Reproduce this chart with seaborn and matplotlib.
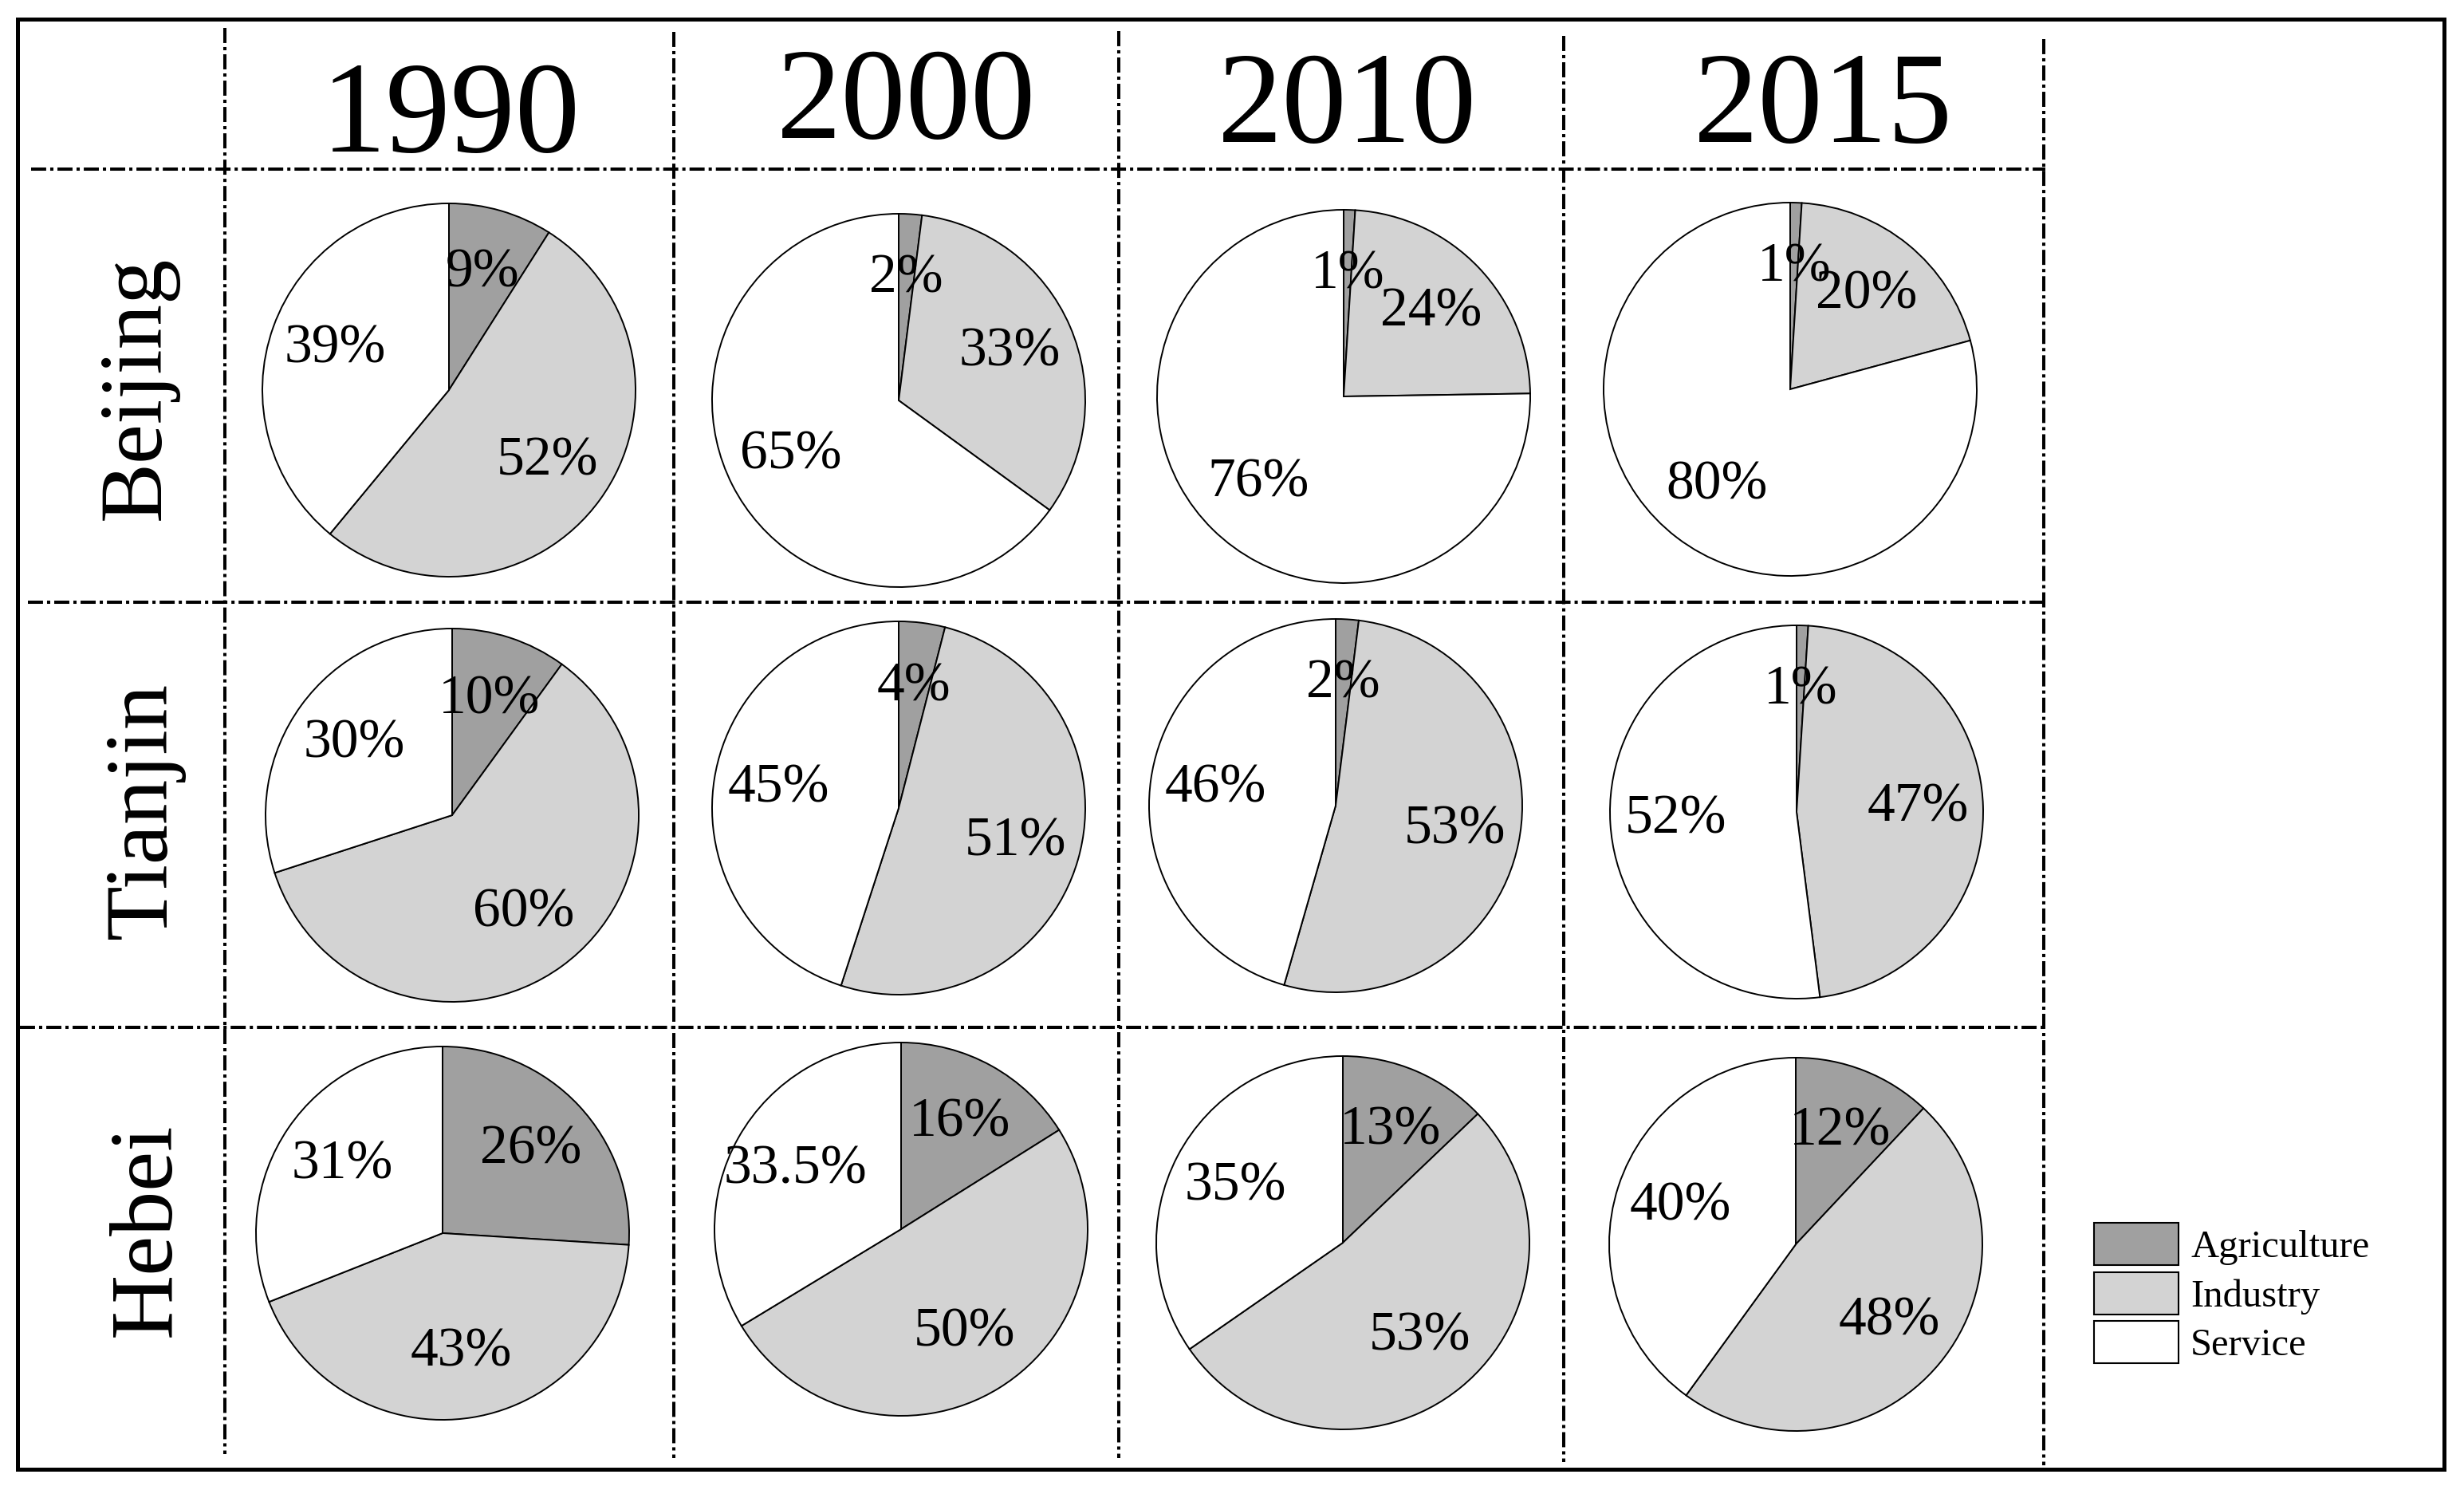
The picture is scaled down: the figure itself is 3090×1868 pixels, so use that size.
import matplotlib
matplotlib.use("Agg")
import matplotlib.pyplot as plt
import seaborn as sns
from matplotlib.lines import Line2D
from matplotlib.patches import Patch, Rectangle

# --- DATOS ---
years = ["1990", "2000", "2010", "2015"]
regions = ["Beijing", "Tianjin", "Hebei"]
sectors = ["Agriculture", "Industry", "Service"]

# porcentaje por sector (Agriculture, Industry, Service) para cada año
beijing = [[9, 52, 39], [2, 33, 65], [1, 24, 76], [1, 20, 80]]
tianjin = [[10, 60, 30], [4, 51, 45], [2, 53, 46], [1, 47, 52]]
hebei = [[26, 43, 31], [16, 50, 33.5], [13, 53, 35], [12, 48, 40]]
shares = {"Beijing": beijing, "Tianjin": tianjin, "Hebei": hebei}

sector_colors = ["#a0a0a0", "#d3d3d3", "#ffffff"]

# --- ESTILO ---
sns.set_theme(style="white")
plt.rcParams["font.family"] = ["Liberation Serif", "DejaVu Serif"]
plt.rcParams["text.color"] = "black"

W, H = 3090, 1868  # lienzo en pixeles


def fx(x):
    return x / W


def fy(y):
    return 1 - y / H


fig = plt.figure(figsize=(W / 100, H / 100), dpi=100)
fig.patch.set_facecolor("white")

# centros de las tartas (pixeles) y radio
pie_centers = [
    [(563, 489), (1127, 502), (1685, 497), (2245, 488)],
    [(567, 1022), (1127, 1013), (1675, 1010), (2253, 1018)],
    [(555, 1546), (1130, 1541), (1684, 1558), (2252, 1560)],
]
radius = 234
pad = 1.06

for i, region in enumerate(regions):
    for j, year in enumerate(years):
        vals = shares[region][j]
        cx, cy = pie_centers[i][j]
        h = radius * pad
        ax = fig.add_axes([fx(cx - h), fy(cy + h), 2 * h / W, 2 * h / H])
        labels = iter(f"{v:g}%" for v in vals)
        ax.pie(
            vals,
            colors=sector_colors,
            startangle=90,
            counterclock=False,
            autopct=lambda p: next(labels),
            pctdistance=0.65,
            wedgeprops={"edgecolor": "black", "linewidth": 1.4},
            textprops={"fontsize": 50, "color": "black"},
        )
        ax.set_xlim(-pad, pad)
        ax.set_ylim(-pad, pad)
        ax.set_axis_off()

# --- REJILLA DE LINEAS DE PUNTO Y RAYA ---
grid_style = dict(color="black", linewidth=2.9, linestyle=(0, (4.7, 1.25, 1.0, 1.25)),
                  transform=fig.transFigure)
v_lines = [(282, 35, 1823), (845, 40, 1828), (1403, 39, 1828), (1961, 45, 1833), (2563, 49, 1837)]
for x, y0, y1 in v_lines:
    fig.add_artist(Line2D([fx(x), fx(x)], [fy(y0), fy(y1)], **grid_style))
h_lines = [(212, 39, 2565), (755, 35, 2565), (1288, 25, 2565)]
for y, x0, x1 in h_lines:
    fig.add_artist(Line2D([fx(x0), fx(x1)], [fy(y), fy(y)], **grid_style))

# marco exterior
fig.add_artist(Rectangle((fx(22), fy(1842)), fx(3065) - fx(22), fy(24) - fy(1842),
                         transform=fig.transFigure, fill=False, edgecolor="black",
                         linewidth=3.6))

# --- ENCABEZADOS ---
header_pos = [(565, 190), (1137, 173), (1689, 178), (2286, 178)]
for year, (x, y) in zip(years, header_pos):
    fig.text(fx(x), fy(y), year, ha="center", va="baseline", fontsize=117, color="black")

region_pos = [(200, 486), (208, 1016), (213, 1542)]
for region, (x, y) in zip(regions, region_pos):
    fig.text(fx(x), fy(y), region, rotation=90, rotation_mode="anchor",
             ha="center", va="baseline", fontsize=81, color="black")

# --- LEYENDA ---
handles = [Patch(facecolor=c, edgecolor="black", linewidth=1.5) for c in sector_colors]
fig.legend(
    handles, sectors,
    loc="upper left",
    bbox_to_anchor=(fx(2626), fy(1533)),
    frameon=False,
    fontsize=35,
    labelcolor="black",
    handlelength=2.18,
    handleheight=1.30,
    labelspacing=0.18,
    handletextpad=0.31,
    borderpad=0,
    borderaxespad=0,
)

fig.savefig("out.png", dpi=100)
